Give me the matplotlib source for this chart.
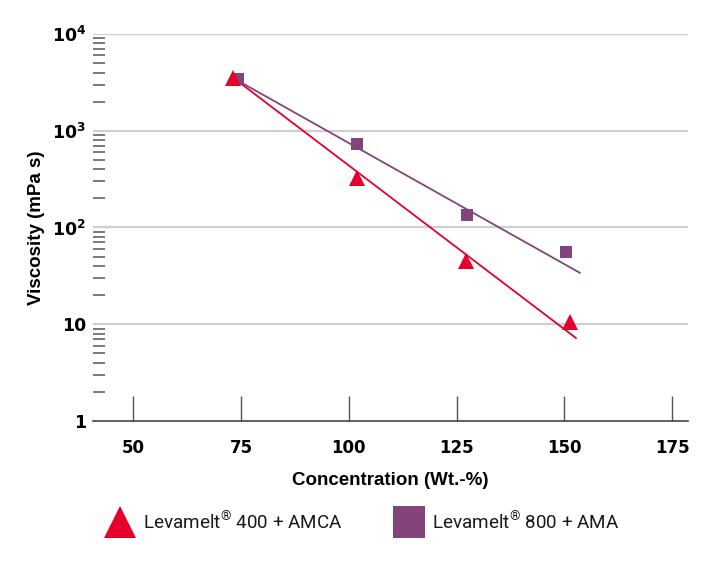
import matplotlib
matplotlib.use('Agg')
import matplotlib.pyplot as plt
from matplotlib.ticker import LogLocator, FixedLocator, NullFormatter

# Levamelt 400 + AMCA
conc_400 = [73.2, 102.0, 127.3, 151.2]
visc_400 = [3500, 325, 45, 10.5]
fit_x_400 = [74.8, 152.7]
fit_y_400 = [3120, 7.2]

# Levamelt 800 + AMA
conc_800 = [74.4, 102.0, 127.5, 150.5]
visc_800 = [3430, 730, 135, 56]
fit_x_800 = [74.8, 153.6]
fit_y_800 = [3200, 34]

x_ticks = [50, 75, 100, 125, 150, 175]
y_ticks = [1, 10, 100, 1000, 10000]
y_labels = ['1', '10', '10$^2$', '10$^3$', '10$^4$']
legend_labels = [r'Levamelt$^{\mathsf{®}}$ 400 + AMCA', r'Levamelt$^{\mathsf{®}}$ 800 + AMA']

red = '#e4002b'
purple = '#834579'

plt.rcParams['font.family'] = ['Liberation Sans', 'DejaVu Sans']
plt.rcParams['mathtext.fontset'] = 'custom'
plt.rcParams['mathtext.rm'] = 'DejaVu Sans:bold'
plt.rcParams['mathtext.sf'] = 'Roboto'
plt.rcParams['mathtext.default'] = 'rm'

fig = plt.figure(figsize=(7.05, 5.62), dpi=100)
ax = fig.add_axes([0.132, 0.2509, 0.844, 0.6886])

ax.set_yscale('log')
ax.set_ylim(1, 10000)
ax.set_xlim(40.7, 178.7)

# gridlines at decades
for v in y_ticks[1:]:
    ax.axhline(v, color='#cfcfcf', lw=1.6, zorder=0)

ax.plot(fit_x_400, fit_y_400, color=red, lw=1.3, zorder=2)
ax.plot(fit_x_800, fit_y_800, color=purple, lw=1.3, zorder=2)
ax.plot(conc_400, visc_400, ls='none', marker='^', ms=12, color=red, mew=0, zorder=4)
ax.plot(conc_800, visc_800, ls='none', marker='s', ms=8.5, color=purple, mew=0, zorder=3)

for s in ['left', 'top', 'right']:
    ax.spines[s].set_visible(False)
ax.spines['bottom'].set_color('#444444')
ax.spines['bottom'].set_linewidth(1.2)

ax.xaxis.set_major_locator(FixedLocator(x_ticks))
ax.set_xticklabels([str(t) for t in x_ticks], fontsize=12, fontweight='bold', family='DejaVu Sans')
ax.tick_params(axis='x', direction='in', length=18, width=1, color='#555555', pad=13)

ax.yaxis.set_major_locator(FixedLocator(y_ticks))
ax.set_yticklabels(y_labels, fontsize=12.5, fontweight='bold', family='DejaVu Sans')
ax.tick_params(axis='y', which='major', length=0, pad=5)
ax.yaxis.set_minor_locator(LogLocator(base=10, subs=[2, 3, 4, 5, 6, 7, 8, 9]))
ax.yaxis.set_minor_formatter(NullFormatter())
ax.tick_params(axis='y', which='minor', direction='in', length=8.6, width=1.1, color='#555555')

ax.set_xlabel('Concentration (Wt.-%)', fontsize=13.5, fontweight='bold', labelpad=11)
ax.set_ylabel('Viscosity (mPa s)', fontsize=13.5, fontweight='bold', labelpad=5)

# legend below the plot
h1, = ax.plot([], [], ls='none', marker='^', ms=23, color=red, mew=0)
h2, = ax.plot([], [], ls='none', marker='s', ms=23.5, color=purple, mew=0)
leg = fig.legend([h1, h2], legend_labels,
                 loc='center left', bbox_to_anchor=(0.127, 0.071), ncol=2, frameon=False,
                 handlelength=1.4, handletextpad=0.52, columnspacing=2.8,
                 prop={'family': 'Roboto', 'weight': 'normal', 'size': 13.6})
for t in leg.get_texts():
    t.set_color('#1a1a1a')

fig.savefig('out.png', dpi=100)
